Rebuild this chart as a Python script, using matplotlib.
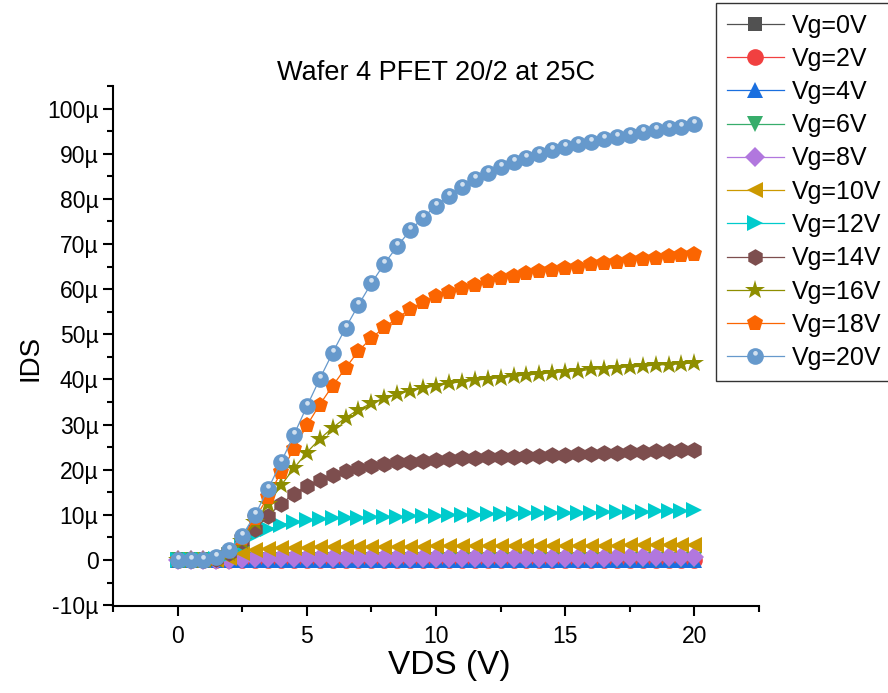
import matplotlib
matplotlib.use("Agg")
import matplotlib.pyplot as plt
from matplotlib.path import Path
from matplotlib.ticker import MultipleLocator, FuncFormatter

plt.rcParams['font.family'] = ['Liberation Sans', 'DejaVu Sans']

# drain voltage sweep (V)
vds = [0, 0.5, 1, 1.5, 2, 2.5, 3, 3.5, 4, 4.5, 5, 5.5, 6, 6.5, 7, 7.5, 8, 8.5, 9, 9.5,
       10, 10.5, 11, 11.5, 12, 12.5, 13, 13.5, 14, 14.5, 15, 15.5, 16, 16.5, 17, 17.5,
       18, 18.5, 19, 19.5, 20]

# drain current in microamps, one list per gate voltage
ids_vg0 = [0, 0, 0, 0, 0, 0, 0, 0, 0, 0, 0, 0, 0, 0, 0, 0, 0, 0, 0, 0, 0,
           0, 0, 0, 0, 0, 0, 0, 0, 0, 0, 0, 0, 0, 0, 0, 0, 0, 0, 0, 0]
ids_vg2 = [0, 0, 0, 0, 0, 0, 0, 0, 0, 0, 0, 0, 0, 0, 0, 0, 0, 0, 0, 0, 0,
           0, 0, 0, 0, 0, 0, 0, 0, 0, 0, 0, 0, 0, 0, 0, 0, 0, 0, 0, 0]
ids_vg4 = [0, 0, 0, 0, 0, 0, 0, 0, 0, 0, 0, 0, 0, 0, 0, 0, 0, 0, 0, 0, 0,
           0, 0, 0, 0, 0, 0, 0, 0, 0, 0, 0, 0, 0, 0, 0, 0, 0, 0, 0, 0]
ids_vg6 = [0, 0, 0, 0, 0, 0, 0, 0, 0, 0, 0, 0, 0, 0, 0, 0, 0, 0, 0, 0, 0,
           0, 0, 0, 0, 0, 0, 0, 0, 0, 0, 0, 0, 0, 0, 0, 0, 0, 0, 0, 0]
ids_vg8 = [0, 0, 0, 0, 0.1, 0.3, 0.4, 0.4, 0.4, 0.4, 0.4, 0.4, 0.4, 0.4, 0.4, 0.4,
           0.4, 0.4, 0.4, 0.4, 0.5, 0.5, 0.5, 0.5, 0.5, 0.5, 0.5, 0.5, 0.5, 0.5, 0.5,
           0.5, 0.5, 0.5, 0.6, 0.6, 0.6, 0.6, 0.6, 0.6, 0.6]
ids_vg10 = [0, 0, 0, 0, 0.4, 1.6, 2.3, 2.5, 2.6, 2.7, 2.7, 2.8, 2.8, 2.8, 2.8,
            2.9, 2.9, 2.9, 2.9, 2.9, 3.0, 3.0, 3.0, 3.0, 3.0, 3.1, 3.1, 3.1, 3.1, 3.1,
            3.2, 3.2, 3.2, 3.2, 3.2, 3.3, 3.3, 3.3, 3.3, 3.3, 3.4]
ids_vg12 = [0, 0, 0, 0.2, 1.2, 3.2, 5.5, 6.8, 7.8, 8.4, 8.8, 9.0, 9.2, 9.3, 9.4,
            9.5, 9.6, 9.6, 9.7, 9.7, 9.8, 9.9, 9.9, 10.0, 10.1, 10.1, 10.2, 10.3, 10.3,
            10.4, 10.4, 10.5, 10.5, 10.6, 10.6, 10.7, 10.7, 10.8, 10.8, 10.9, 11.0]
ids_vg14 = [0, 0, 0, 0.3, 1.5, 4.1, 6.8, 9.8, 12.4, 14.6, 16.4, 17.8, 18.8, 19.7, 20.4,
            20.9, 21.3, 21.6, 21.7, 22.0, 22.1, 22.3, 22.5, 22.5, 22.7, 22.8, 22.9, 23.1,
            23.1, 23.2, 23.3, 23.4, 23.5, 23.6, 23.8, 23.9, 24.0, 24.1, 24.2, 24.3, 24.4]
ids_vg16 = [0, 0, 0, 0.3, 1.5, 4.3, 8.3, 12.3, 16.5, 20.3, 23.8, 26.8, 29.3, 31.5, 33.3,
            34.7, 35.9, 36.7, 37.5, 38.1, 38.6, 39.1, 39.5, 39.8, 40.1, 40.4, 40.7, 41.0,
            41.2, 41.5, 41.7, 41.9, 42.2, 42.4, 42.6, 42.8, 42.9, 43.2, 43.3, 43.5, 43.6]
ids_vg18 = [0, 0, 0, 0.4, 1.9, 4.8, 9.2, 14.0, 19.4, 24.6, 29.8, 34.4, 38.6, 42.5, 46.3,
            49.2, 51.5, 53.6, 55.6, 57.1, 58.4, 59.4, 60.2, 61.0, 61.7, 62.4, 62.9, 63.5,
            64.0, 64.3, 64.7, 65.0, 65.5, 65.8, 66.1, 66.4, 66.7, 67.0, 67.3, 67.6, 67.8]
ids_vg20 = [0, 0, 0, 0.6, 2.2, 5.4, 10.0, 15.7, 21.6, 27.7, 34.0, 40.1, 45.9, 51.4, 56.5,
            61.3, 65.6, 69.5, 73.0, 75.8, 78.5, 80.7, 82.6, 84.3, 85.8, 87.0, 88.2, 89.1,
            90.0, 90.8, 91.5, 92.2, 92.7, 93.3, 93.8, 94.2, 94.7, 95.2, 95.6, 96.0, 96.5]

labels = ['Vg=0V', 'Vg=2V', 'Vg=4V', 'Vg=6V', 'Vg=8V', 'Vg=10V',
          'Vg=12V', 'Vg=14V', 'Vg=16V', 'Vg=18V', 'Vg=20V']
series = [ids_vg0, ids_vg2, ids_vg4, ids_vg6, ids_vg8, ids_vg10,
          ids_vg12, ids_vg14, ids_vg16, ids_vg18, ids_vg20]
colors = ['#515151', '#F14040', '#1A6FDF', '#37AD6B', '#B177DE', '#CC9900',
          '#00CBCC', '#7D4E4E', '#8E8E00', '#FB6501', '#6699CC']
markers = ['s', 'o', '^', 'v', 'D', '<', '>', 'h', '*', 'p', 'o']
msizes = [10, 12, 12, 12, 10, 12, 12, 12, 15, 12, 12]

# small off-centre highlight to fake the shaded ball marker
circ = Path.circle((0.0, 0.38), 0.28)
shine = Path([(0, -1), (0, 1)] + list(circ.vertices),
             [Path.MOVETO, Path.MOVETO] + list(circ.codes))

fig = plt.figure(figsize=(8.88, 6.93), dpi=100)
ax = fig.add_axes([113 / 888, 1 - 606 / 693, 646 / 888, 520 / 693])

handles = []
for y, lab, c, m, ms in zip(series, labels, colors, markers, msizes):
    ln, = ax.plot(vds, y, color=c, marker=m, markersize=ms, markeredgewidth=0,
                  linewidth=0.9, label=lab, clip_on=False)
    if lab == 'Vg=20V':
        hl, = ax.plot(vds, y, linestyle='none', marker=shine, markersize=12,
                      markerfacecolor='white', markeredgewidth=0, alpha=0.7,
                      clip_on=False)
        handles.append((ln, hl))
    else:
        handles.append(ln)

ax.set_xlim(-2.5, 22.5)
ax.set_ylim(-10.2, 105)
ax.xaxis.set_major_locator(MultipleLocator(5))
ax.xaxis.set_minor_locator(MultipleLocator(2.5))
ax.yaxis.set_major_locator(MultipleLocator(10))
ax.yaxis.set_minor_locator(MultipleLocator(5))
ax.yaxis.set_major_formatter(FuncFormatter(lambda v, p: '0' if abs(v) < 1e-9 else f'{v:g}µ'))

for s in ['top', 'right']:
    ax.spines[s].set_visible(False)
for s in ['left', 'bottom']:
    ax.spines[s].set_linewidth(1.5)
ax.tick_params(which='major', direction='out', length=7, width=1.5, labelsize=16.5)
ax.tick_params(which='major', axis='x', pad=7)
ax.tick_params(which='minor', direction='out', length=4, width=1.5)

ax.set_xlabel('VDS (V)', fontsize=24)
ax.set_ylabel('IDS', fontsize=20)
ax.xaxis.set_label_coords(0.52, -0.085)
ax.yaxis.set_label_coords(-0.107, 0.477)
ax.set_title('Wafer 4 PFET 20/2 at 25C', fontsize=19.5, pad=-1.5)

leg = fig.legend(handles, labels, loc='upper left', bbox_to_anchor=(716 / 888, 1 - 3 / 693),
                 bbox_transform=fig.transFigure, fontsize=18, frameon=True, fancybox=False,
                 edgecolor='#333333', framealpha=1, handlelength=2.3, handletextpad=0.3,
                 labelspacing=0.37, borderpad=0.42, borderaxespad=0)
leg.get_frame().set_linewidth(1)

fig.savefig('out.png', dpi=100)
